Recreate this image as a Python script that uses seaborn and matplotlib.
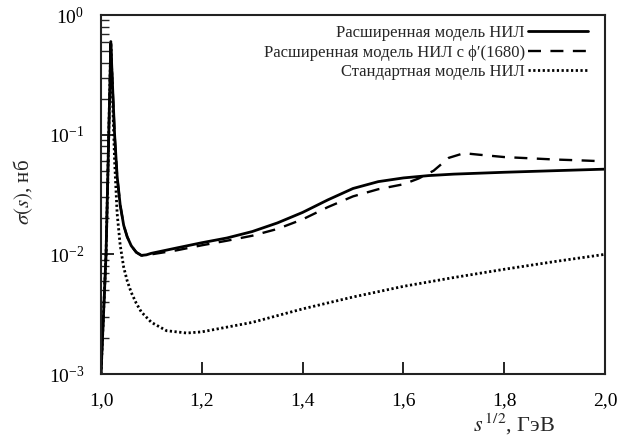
import numpy as np
import pandas as pd
import matplotlib
matplotlib.use('Agg')
import matplotlib.pyplot as plt
import seaborn as sns

# ----- data -----
ext_x = [1.000, 1.010, 1.0195, 1.023, 1.027, 1.032, 1.038, 1.045, 1.052, 1.060, 1.070, 1.080,
         1.090, 1.100, 1.150, 1.200, 1.250, 1.300, 1.350, 1.400, 1.450, 1.500, 1.550,
         1.600, 1.650, 1.700, 1.800, 1.900, 2.000]
ext_y = [0.0010, 0.0100, 0.580, 0.250, 0.100, 0.045, 0.026, 0.0175, 0.0140, 0.0118, 0.0104, 0.0098,
         0.0099, 0.0102, 0.0113, 0.0125, 0.0137, 0.0155, 0.0183, 0.0224, 0.0285, 0.0355, 0.0405,
         0.0435, 0.0455, 0.0468, 0.0485, 0.0500, 0.0515]

phi_x = [1.000, 1.010, 1.0195, 1.023, 1.027, 1.032, 1.038, 1.045, 1.052, 1.060, 1.070, 1.080,
         1.090, 1.100, 1.150, 1.200, 1.250, 1.300, 1.350, 1.400, 1.450, 1.500, 1.550,
         1.600, 1.630, 1.660, 1.690, 1.720, 1.750, 1.800, 1.850, 1.900, 1.950, 1.980]
phi_y = [0.0010, 0.0100, 0.580, 0.250, 0.100, 0.045, 0.026, 0.0175, 0.0140, 0.0118, 0.0104, 0.0098,
         0.0098, 0.0100, 0.0108, 0.0119, 0.0130, 0.0143, 0.0163, 0.0196, 0.0248, 0.0305, 0.0350,
         0.0385, 0.0430, 0.0500, 0.0640, 0.0700, 0.0680, 0.0650, 0.0635, 0.0620, 0.0610, 0.0603]

std_x = [1.000, 1.010, 1.0195, 1.023, 1.027, 1.032, 1.038, 1.045, 1.052, 1.060, 1.070, 1.080,
         1.100, 1.130, 1.170, 1.200, 1.300, 1.400, 1.500, 1.600, 1.700, 1.800, 1.900, 2.000]
std_y = [0.0010, 0.0100, 0.600, 0.200, 0.060, 0.022, 0.0120, 0.0078, 0.0060, 0.0048, 0.0039, 0.0033,
         0.0027, 0.0023, 0.0022, 0.00225, 0.0027, 0.0035, 0.0044, 0.0054, 0.0064, 0.0075, 0.0087, 0.0100]

labels = ['Расширенная модель НИЛ',
          'Расширенная модель НИЛ с ϕ′(1680)',
          'Стандартная модель НИЛ']

# ----- style -----
sns.set_theme(style='ticks')
plt.rcParams['font.family'] = ['Liberation Serif', 'DejaVu Serif']
plt.rcParams['mathtext.fontset'] = 'stix'

fig = plt.figure(figsize=(6.41, 4.36), dpi=100)
ax = fig.add_axes([101 / 641, 1 - 374 / 436, 504 / 641, 359 / 436])

sns.lineplot(x=ext_x, y=ext_y, ax=ax, color='black', lw=2.0, label=labels[0])
sns.lineplot(x=phi_x, y=phi_y, ax=ax, color='black', lw=1.7, label=labels[1],
             dashes=False, linestyle=(0, (5.5, 4)))
sns.lineplot(x=std_x, y=std_y, ax=ax, color='black', lw=2.0, label=labels[2],
             dashes=False, linestyle=(0, (0.8, 0.9)))

ax.set_yscale('log')
ax.set_xlim(1.0, 2.0)
ax.set_ylim(1e-3, 1.0)
ax.set_xticks([1.0, 1.2, 1.4, 1.6, 1.8, 2.0])
ax.set_xticklabels(['1,0', '1,2', '1,4', '1,6', '1,8', '2,0'])

ax.tick_params(axis='both', which='major', direction='in', length=9, width=1.2,
               labelsize=14, colors='black')
ax.tick_params(axis='x', which='major', pad=13)
ax.tick_params(axis='y', which='major', pad=12)
ax.tick_params(axis='y', which='minor', direction='in', length=6, width=1.0)
ax.tick_params(axis='x', which='minor', bottom=False)
for sp in ax.spines.values():
    sp.set_visible(True)
    sp.set_linewidth(1.5)
    sp.set_color('#222222')

ax.set_ylabel(r'$\sigma(s)$, нб', fontsize=15)
ax.yaxis.set_label_coords((35 - 101) / 504, (374 - 192) / 359)
ax.set_xlabel(r'$s^{\,1/2}$, ГэВ', fontsize=16, va='center')
ax.xaxis.set_label_coords((514 - 101) / 504, (374 - 424) / 359)

leg = ax.legend(loc='upper right', frameon=False, markerfirst=False, fontsize=12,
                handlelength=3.6, handletextpad=0.2, labelspacing=0.2,
                borderaxespad=0.0, bbox_to_anchor=(0.98, 0.99))
for t in leg.get_texts():
    t.set_ha('right')

fig.savefig('out.png', dpi=100)
